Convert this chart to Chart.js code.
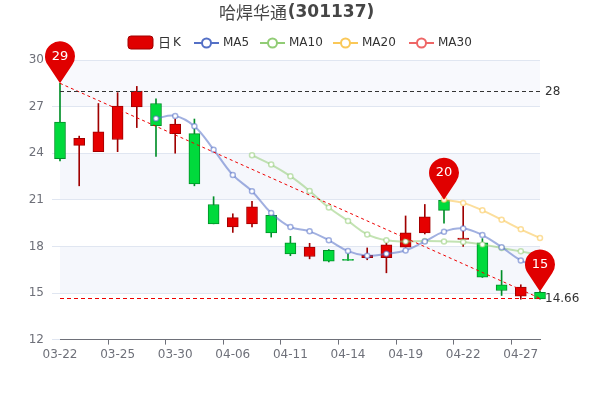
<!DOCTYPE html>
<html>
<head>
<meta charset="utf-8">
<script src="https://cdn.jsdelivr.net/npm/chart.js@4"></script>
<style>body{margin:0;background:#fff}#wrap{width:600px;height:400px}</style>
</head>
<body>
<div id="wrap"><canvas id="c"></canvas></div>
<script>
// data
const dates = ["03-22","03-23","03-24","03-25","03-28","03-29","03-30","03-31","04-01","04-06","04-07","04-08","04-11","04-12","04-13","04-14","04-15","04-18","04-19","04-20","04-21","04-22","04-25","04-26","04-27","04-28"];
const openP = [26.0,24.5,24.1,24.88,26.98,27.2,25.26,25.26,20.7,19.25,19.45,20.0,18.23,17.35,17.74,17.17,17.27,17.27,17.95,18.87,20.97,18.45,18.23,15.53,14.8,15.05];
const closeP = [23.65,24.95,25.37,27.03,28.0,25.77,25.87,22.03,19.45,19.85,20.55,18.86,17.52,17.95,17.05,17.1,17.42,18.1,18.87,19.9,20.32,18.54,16.02,15.16,15.38,14.62];
const highP = [28.5,25.1,27.2,27.9,28.3,27.5,26.2,26.2,21.2,20.1,20.9,20.0,18.65,18.2,17.8,17.52,17.9,18.2,19.96,20.7,21.0,20.58,18.5,16.45,15.53,15.1];
const lowP = [23.5,21.9,24.1,24.1,25.65,23.8,24.0,21.9,19.45,18.9,19.25,18.6,17.4,17.2,17.0,17.1,17.14,16.3,17.95,18.8,19.5,18.0,16.0,14.84,14.6,14.6];
const ma5 = [null,null,null,null,null,26.24,26.4,25.74,24.23,22.6,21.55,20.15,19.25,18.97,18.39,17.7,17.4,17.52,17.74,18.32,18.95,19.16,18.73,17.95,17.1,16.6];
const ma10 = [null,null,null,null,null,null,null,null,null,null,23.87,23.27,22.52,21.57,20.5,19.64,18.77,18.39,18.32,18.34,18.32,18.28,18.13,17.9,17.68,17.45];
const ma20 = [null,null,null,null,null,null,null,null,null,null,null,null,null,null,null,null,null,null,null,null,21.0,20.8,20.32,19.72,19.1,18.54];
const yTicks = [12,15,18,21,24,27,30];
const maxLine = 28, minLine = 14.66;
const pins = [{i:0,v:28.5,t:"29"},{i:20,v:21.0,t:"20"},{i:25,v:15.1,t:"15"}];

const up = closeP.map((c,i)=>c>=openP[i]);
const trend = dates.map((d,i)=>i===0?28.5:(i===dates.length-1?14.66:null));

const extras = {
  id:'extras',
  beforeDraw(ch){
    const {ctx,chartArea:a,scales:{y}} = ch;
    ctx.save();
    for(let k=0;k<yTicks.length-1;k++){
      if(k%2===0) continue;
      const t=y.getPixelForValue(yTicks[k+1]), b=y.getPixelForValue(yTicks[k]);
      ctx.fillStyle='#f5f7fc'; ctx.fillRect(a.left,t,a.right-a.left,b-t);
    }
    ctx.fillStyle='#f8f9fd'; ctx.fillRect(a.left,y.getPixelForValue(30),a.right-a.left,y.getPixelForValue(27)-y.getPixelForValue(30));
    ctx.restore();
  },
  afterDraw(ch){
    const {ctx,chartArea:a,scales:{x,y}} = ch;
    ctx.save();
    ctx.setLineDash([4,3]); ctx.strokeStyle='#e00'; ctx.lineWidth=1;
    [maxLine,minLine].forEach(v=>{
      const py=Math.round(y.getPixelForValue(v))+0.5;
      ctx.strokeStyle = v===maxLine?'#333':'#e00';
      ctx.beginPath(); ctx.moveTo(a.left,py); ctx.lineTo(a.right,py); ctx.stroke();
      ctx.fillStyle='#333'; ctx.font='12px "DejaVu Sans"'; ctx.textBaseline='middle';
      ctx.fillText(String(v),a.right+5,py);
    });
    ctx.setLineDash([]);
    pins.forEach(p=>{
      const px=x.getPixelForValue(p.i), py=y.getPixelForValue(p.v);
      const cy=py-27, r=15;
      ctx.fillStyle='#e00000';
      ctx.beginPath(); ctx.arc(px,cy,r,Math.PI*0.8,Math.PI*0.2); ctx.lineTo(px,py); ctx.closePath(); ctx.fill();
      ctx.fillStyle='#fff'; ctx.font='13px "DejaVu Sans"'; ctx.textAlign='center'; ctx.textBaseline='middle';
      ctx.fillText(p.t,px,cy);
    });
    // title + legend
    ctx.textAlign='center'; ctx.textBaseline='middle'; ctx.fillStyle='#464646';
    ctx.font='17px "Noto Sans CJK SC"'; ctx.fillText('哈焊华通',253,13);
    ctx.font='bold 17px "DejaVu Sans"'; ctx.fillText('(301137)',331,13);
    ctx.textAlign='left'; ctx.font='12px "DejaVu Sans"';
    ctx.fillStyle='#e00000'; ctx.strokeStyle='#a00000';
    ctx.beginPath(); ctx.roundRect(128,36,25,13,3); ctx.fill(); ctx.stroke();
    ctx.fillStyle='#333'; ctx.font='13px "Noto Sans CJK SC"'; ctx.fillText('日',158,42);
    ctx.font='12px "DejaVu Sans"'; ctx.fillText('K',173,43);
    [['MA5','#5470c6',194],['MA10','#91cc75',260],['MA20','#fac858',333],['MA30','#ee6666',409]].forEach(l=>{
      ctx.strokeStyle=l[1]; ctx.lineWidth=2;
      ctx.beginPath(); ctx.moveTo(l[2],43); ctx.lineTo(l[2]+25,43); ctx.stroke();
      ctx.fillStyle='#fff'; ctx.beginPath(); ctx.arc(l[2]+12.5,43,4.5,0,7); ctx.fill(); ctx.stroke();
      ctx.fillStyle='#333'; ctx.fillText(l[0],l[2]+29,43);
    });
    ctx.restore();
  }
};

function maSet(label,data,color){
  return {type:'line',label,data,borderColor:color,backgroundColor:'#fff',borderWidth:2,
    pointRadius:2.5,pointBorderWidth:1.5,pointBorderColor:color,tension:0.4,order:1,clip:false};
}

new Chart(document.getElementById('c'),{
  type:'bar',
  data:{labels:dates,datasets:[
    {label:'wick',data:dates.map((d,i)=>[lowP[i],highP[i]]),backgroundColor:up.map(u=>u?'#a00000':'#008f28'),
      barThickness:1,grouped:false,order:3,clip:false},
    {label:'日K',data:dates.map((d,i)=>[openP[i],closeP[i]]),backgroundColor:up.map(u=>u?'#e60000':'#00da3c'),
      borderColor:up.map(u=>u?'#a00000':'#008f28'),borderWidth:1,borderSkipped:false,barThickness:11,minBarLength:1,grouped:false,order:2,clip:false},
    maSet('MA5',ma5,'rgba(84,112,198,0.55)'),
    maSet('MA10',ma10,'rgba(145,204,117,0.55)'),
    maSet('MA20',ma20,'rgba(250,200,88,0.6)'),
    {type:'line',label:'trend',data:trend,spanGaps:true,borderColor:'#e00',borderWidth:1,borderDash:[3,3],pointRadius:0,order:0}
  ]},
  options:{
    responsive:true,maintainAspectRatio:false,animation:false,
    layout:{padding:{top:60,right:60,bottom:35}},
    plugins:{legend:{display:false},tooltip:{enabled:false}},
    scales:{
      x:{offset:false,grid:{drawOnChartArea:false,color:c=>c.index%3===0?'#6e7079':'transparent',tickLength:5},
        border:{color:'#6e7079'},
        ticks:{autoSkip:false,maxRotation:0,color:'#6e7079',font:{size:12,family:'DejaVu Sans'},
          callback:(v,i)=>i%3===0?dates[i]:''}},
      y:{min:12,max:30,afterFit:s=>{s.width=60},afterBuildTicks:s=>{s.ticks=yTicks.map(v=>({value:v}))},
        grid:{color:'#e0e6f1'},border:{display:false},
        ticks:{color:'#6e7079',font:{size:12,family:'DejaVu Sans'},padding:8}}
    }
  },
  plugins:[extras]
});
</script>
</body>
</html>
